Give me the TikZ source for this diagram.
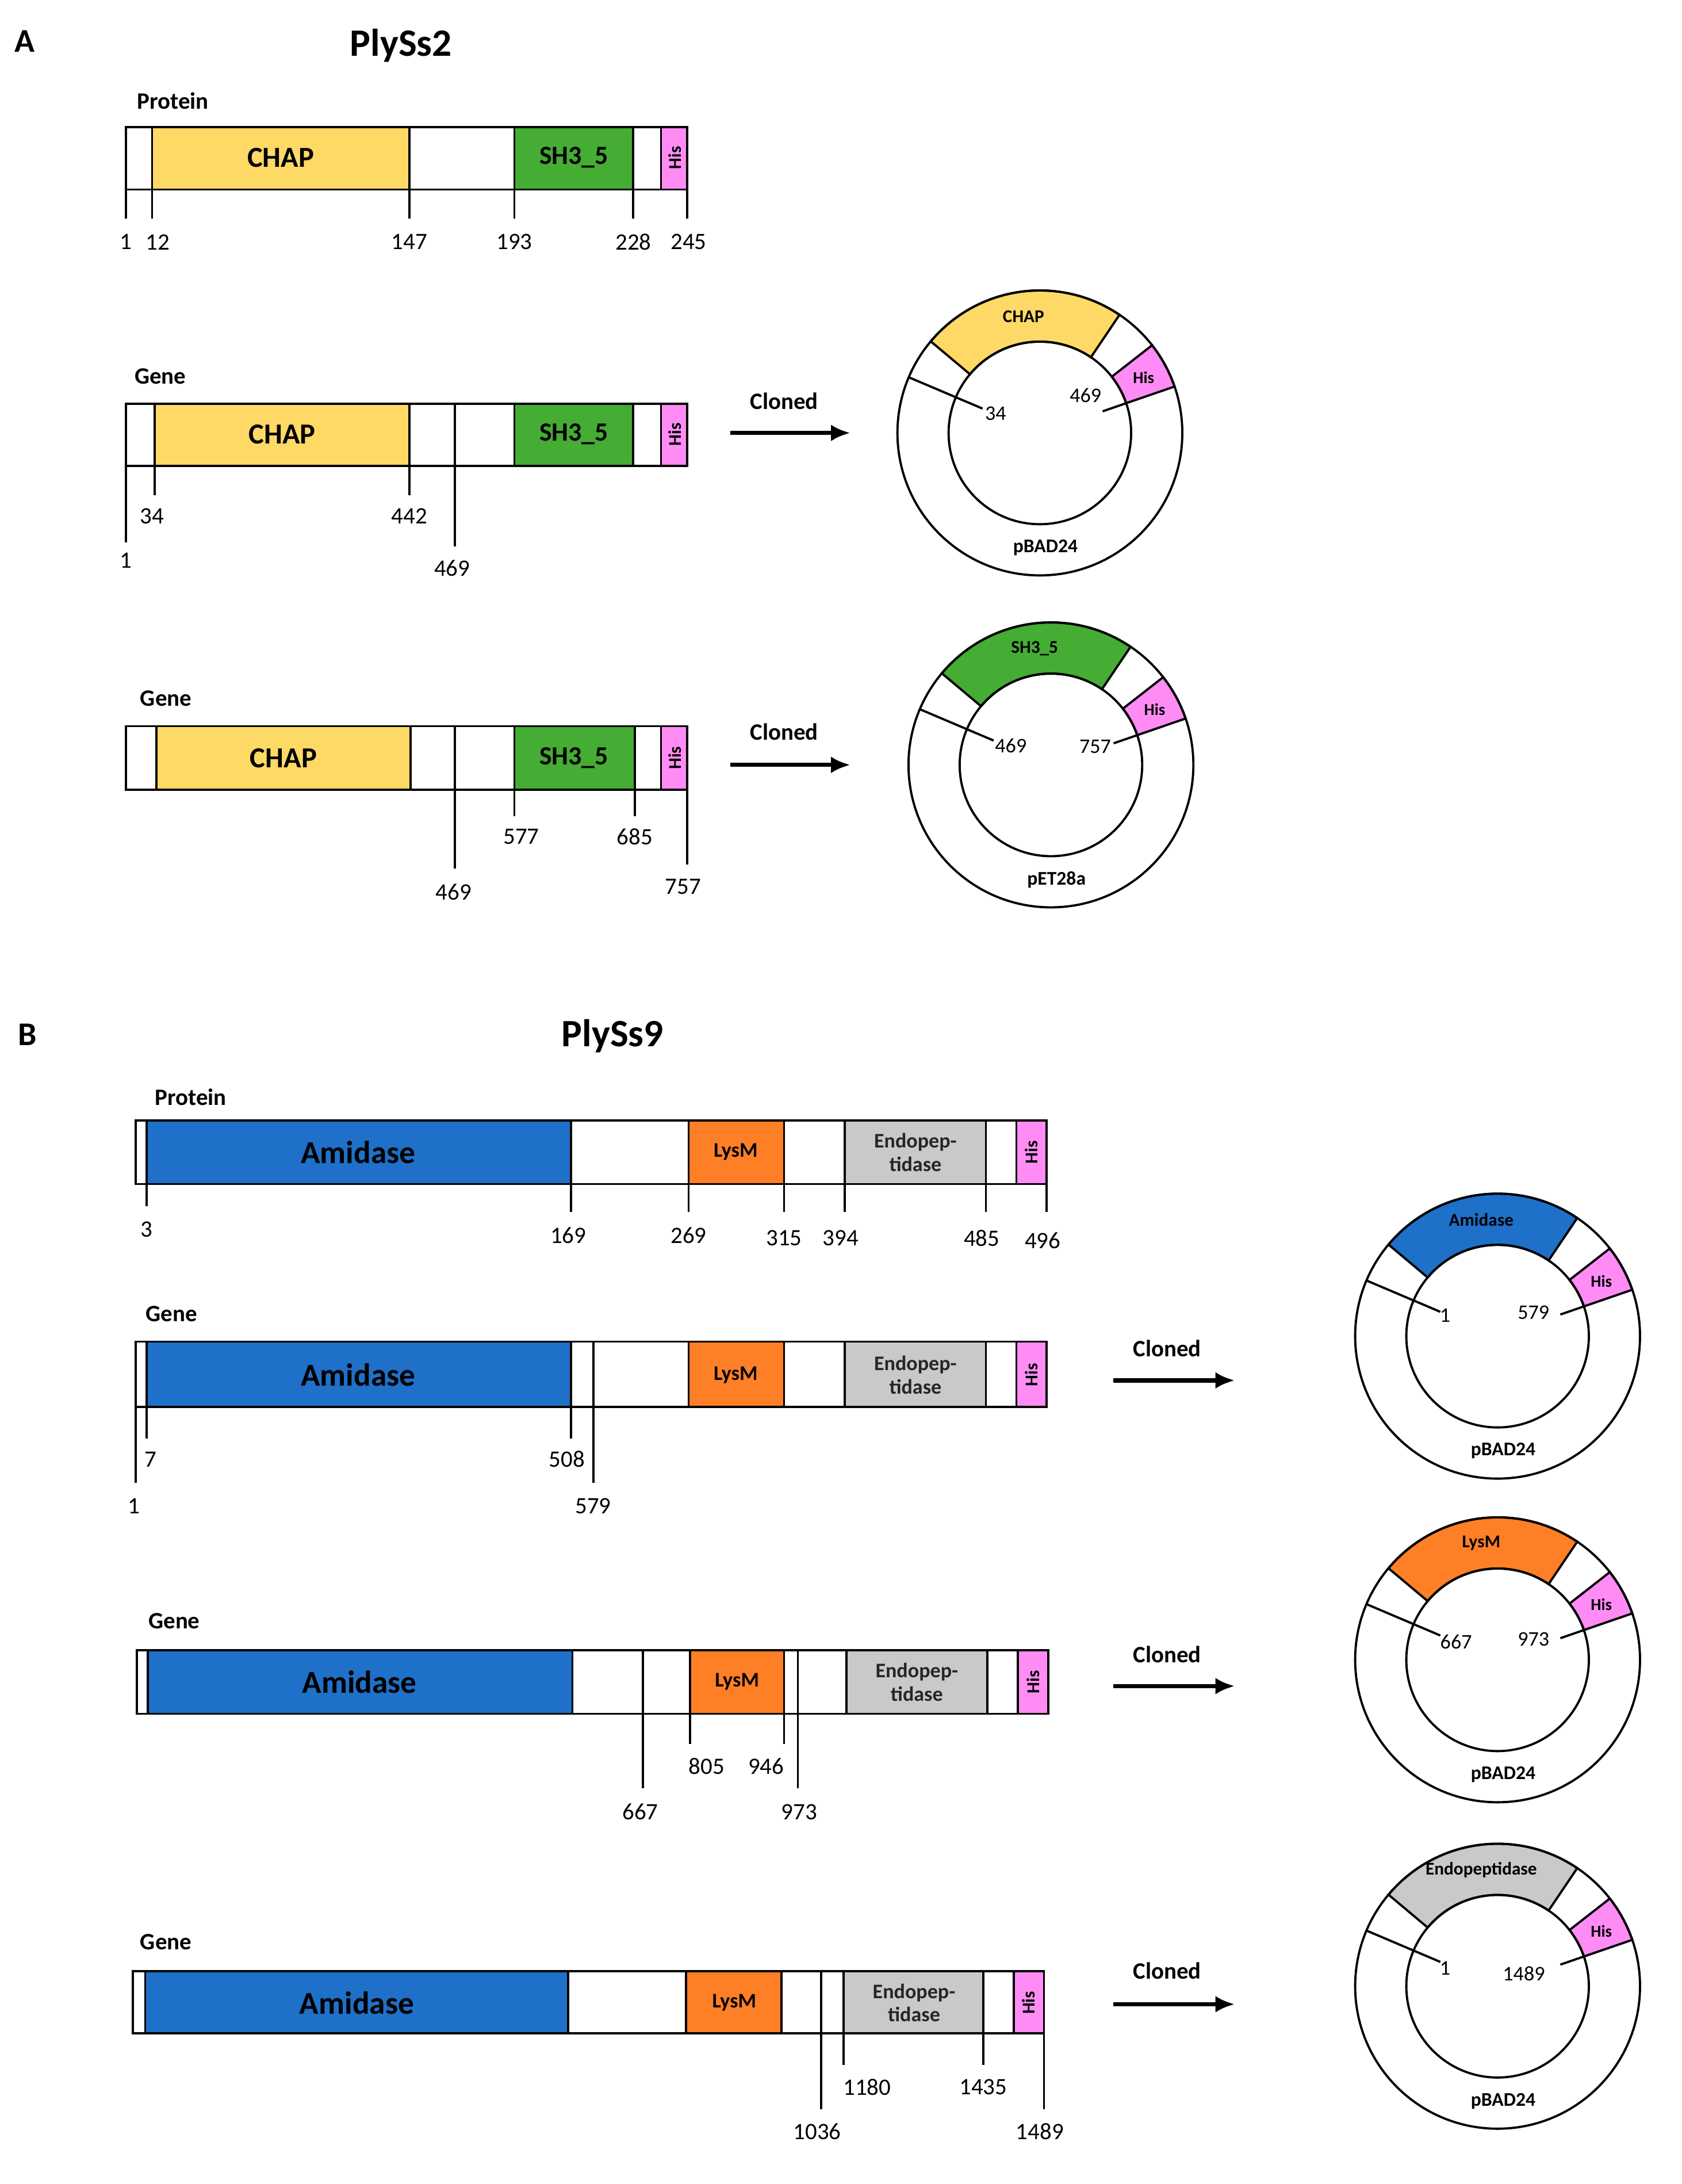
\documentclass[tikz,border=0pt]{standalone}
\usepackage{fontspec}
\setmainfont{Carlito}
\definecolor{ycol}{HTML}{FFD966}
\definecolor{gcol}{HTML}{45AC34}
\definecolor{pcol}{HTML}{FF8CF5}
\definecolor{bcol}{HTML}{1E70C8}
\definecolor{ocol}{HTML}{FF7F27}
\definecolor{scol}{HTML}{C9C9C9}
\newcommand\fs[1]{\fontsize{#1}{#1}\selectfont}
\newcommand\bx[5]{\filldraw[fill=#5] (#1,#3) rectangle (#2,#4);}
\newcommand\tk[3]{\draw (#1,#2) -- (#1,#3);}
\newcommand\plas[9]{%
 \begin{scope}[shift={(#1,#2)}]
 \fill[white] (0,0) circle (103);
 \filldraw[fill=#3] (-140:103) arc[start angle=-140,end angle=-56,radius=103] -- (-56:66) arc[start angle=-56,end angle=-140,radius=66] -- cycle;
 \filldraw[fill=pcol] (-38:103) arc[start angle=-38,end angle=-19,radius=103] -- (-19:66) arc[start angle=-19,end angle=-38,radius=66] -- cycle;
 \draw (0,0) circle (103); \draw (0,0) circle (66);
 \draw (-157:103) -- (-157:45);
 \draw (-19:66) -- (-19:48);
 \node[font=\fs{13}\bfseries] (#9d) at (-98:85) {#4};
 \node[font=\fs{12}\bfseries] (#9h) at (-28:85) {His};
 \node[font=\fs{15}] (#9a) at (#5) {#6};
 \node[font=\fs{15}] (#9b) at (#7) {#8};
 \node[font=\fs{14}\bfseries] (#9n) at (4,83) {\plasname};
 \end{scope}}
\begin{document}
\begin{tikzpicture}[x=1pt,y=-1pt,line width=1.6pt,
 lab/.style={font=\fs{17}},
 ttl/.style={font=\fs{17}\bfseries},
 arr/.style={-{Latex[length=14pt,width=12pt]},line width=3pt}]
\useasboundingbox (0,0) rectangle (1216,1579);
\usetikzlibrary{arrows.meta}
% ---------- A ----------
\node[font=\fs{24}\bfseries] (A) at (18,30) {A};
\node[font=\fs{28}\bfseries] (t1) at (290,33) {PlySs2};
\node[ttl] (p1) at (125,73) {Protein};
\bx{91}{110}{92}{137}{white}\bx{110}{296}{92}{137}{ycol}\bx{296}{372}{92}{137}{white}
\bx{372}{458}{92}{137}{gcol}\bx{458}{478}{92}{137}{white}\bx{478}{497}{92}{137}{pcol}
\node[font=\fs{21}\bfseries] at (203,114) {CHAP};
\node[font=\fs{19}\bfseries] at (415,114) {SH3\_5};
\node[font=\fs{13}\bfseries,rotate=90] at (488,114) {His};
\tk{91}{137}{158}\tk{110}{137}{158}\tk{296}{137}{158}\tk{372}{137}{158}\tk{458}{137}{158}\tk{497}{137}{158}
\node[lab] at (91,175) {1};\node[lab] at (114,175) {12};\node[lab] at (296,175) {147};
\node[lab] at (372,175) {193};\node[lab] at (458,175) {228};\node[lab] at (498,175) {245};
% gene 1
\node[ttl] (g1) at (116,272) {Gene};
\bx{91}{112}{292}{337}{white}\bx{112}{296}{292}{337}{ycol}\bx{296}{329}{292}{337}{white}\bx{329}{372}{292}{337}{white}
\bx{372}{458}{292}{337}{gcol}\bx{458}{478}{292}{337}{white}\bx{478}{497}{292}{337}{pcol}
\node[font=\fs{21}\bfseries] at (204,314) {CHAP};
\node[font=\fs{19}\bfseries] at (415,314) {SH3\_5};
\node[font=\fs{13}\bfseries,rotate=90] at (488,314) {His};
\tk{91}{337}{392}\tk{112}{337}{358}\tk{296}{337}{358}\tk{329}{337}{395}
\node[lab] at (91,405) {1};\node[lab] at (110,373) {34};\node[lab] at (296,373) {442};\node[lab] at (327,411) {469};
\node[ttl] (c1) at (567,290) {Cloned};
\coordinate (a1s) at (528,313); \coordinate (a1e) at (615,313);
\draw[arr] (a1s) -- (a1e);
\def\plasname{pBAD24}
\plas{752}{313}{ycol}{CHAP}{-32,-14}{34}{33,-27}{469}{P1}
% gene 2
\node[ttl] (g2) at (120,505) {Gene};
\bx{91}{113}{525}{571}{white}\bx{113}{297}{525}{571}{ycol}\bx{297}{329}{525}{571}{white}\bx{329}{372}{525}{571}{white}
\bx{372}{459}{525}{571}{gcol}\bx{459}{478}{525}{571}{white}\bx{478}{497}{525}{571}{pcol}
\node[font=\fs{21}\bfseries] at (205,548) {CHAP};
\node[font=\fs{19}\bfseries] at (415,548) {SH3\_5};
\node[font=\fs{13}\bfseries,rotate=90] at (488,548) {His};
\tk{329}{571}{628}\tk{372}{571}{590}\tk{459}{571}{590}\tk{497}{571}{625}
\node[lab] at (328,645) {469};\node[lab] at (377,605) {577};\node[lab] at (459,605) {685};\node[lab] at (494,641) {757};
\node[ttl] (c2) at (567,529) {Cloned};
\coordinate (a2s) at (528,553); \coordinate (a2e) at (615,553);
\draw[arr] (a2s) -- (a2e);
\def\plasname{pET28a}
\plas{760}{553}{gcol}{SH3\_5}{-29,-14}{469}{32,-13}{757}{P2}
% ---------- B ----------
\node[font=\fs{24}\bfseries] (B) at (20,748) {B};
\node[font=\fs{28}\bfseries] (t2) at (443,749) {PlySs9};
\node[ttl] (p2) at (138,793) {Protein};
\bx{98}{106}{810}{856}{white}\bx{106}{413}{810}{856}{bcol}\bx{413}{498}{810}{856}{white}\bx{498}{567}{810}{856}{ocol}
\bx{567}{611}{810}{856}{white}\bx{611}{713}{810}{856}{scol}\bx{713}{735}{810}{856}{white}\bx{735}{757}{810}{856}{pcol}
\node[font=\fs{23}\bfseries] at (259,833) {Amidase};
\node[font=\fs{15}\bfseries] at (532,833) {LysM};
\node[font=\fs{15}\bfseries,align=center,text=black!85] at (662,833) {Endopep-\\[2pt]tidase};
\node[font=\fs{13}\bfseries,rotate=90] at (746,833) {His};
\tk{106}{856}{872}\tk{413}{856}{876}\tk{498}{856}{876}\tk{567}{856}{876}\tk{611}{856}{876}\tk{713}{856}{876}\tk{757}{856}{876}
\node[lab] at (106,889) {3};\node[lab] at (411,893) {169};\node[lab] at (498,893) {269};\node[lab] at (567,895) {315};
\node[lab] at (608,895) {394};\node[lab] at (710,895) {485};\node[lab] at (754,897) {496};
% gene B1
\node[ttl] (g3) at (124,950) {Gene};
\bx{98}{106}{970}{1017}{white}\bx{106}{413}{970}{1017}{bcol}\bx{413}{429}{970}{1017}{white}\bx{429}{498}{970}{1017}{white}\bx{498}{567}{970}{1017}{ocol}
\bx{567}{611}{970}{1017}{white}\bx{611}{713}{970}{1017}{scol}\bx{713}{735}{970}{1017}{white}\bx{735}{757}{970}{1017}{pcol}
\node[font=\fs{23}\bfseries] at (259,994) {Amidase};
\node[font=\fs{15}\bfseries] at (532,994) {LysM};
\node[font=\fs{15}\bfseries,align=center,text=black!85] at (662,994) {Endopep-\\[2pt]tidase};
\node[font=\fs{13}\bfseries,rotate=90] at (746,994) {His};
\tk{98}{1017}{1072}\tk{106}{1017}{1040}\tk{413}{1017}{1040}\tk{429}{1017}{1072}
\node[lab] at (97,1089) {1};\node[lab] at (109,1055) {7};\node[lab] at (410,1055) {508};\node[lab] at (429,1089) {579};
\node[ttl] (c3) at (844,975) {Cloned};
\coordinate (a3s) at (805,998); \coordinate (a3e) at (893,998);
\draw[arr] (a3s) -- (a3e);
\def\plasname{pBAD24}
\plas{1083}{966}{bcol}{Amidase}{-38,-15}{1}{26,-17}{579}{P3}
% gene B2
\node[ttl] (g4) at (126,1172) {Gene};
\bx{99}{107}{1193}{1239}{white}\bx{107}{414}{1193}{1239}{bcol}\bx{414}{465}{1193}{1239}{white}\bx{465}{499}{1193}{1239}{white}\bx{499}{567}{1193}{1239}{ocol}
\bx{567}{577}{1193}{1239}{white}\bx{577}{612}{1193}{1239}{white}\bx{612}{714}{1193}{1239}{scol}\bx{714}{736}{1193}{1239}{white}\bx{736}{758}{1193}{1239}{pcol}
\node[font=\fs{23}\bfseries] at (260,1216) {Amidase};
\node[font=\fs{15}\bfseries] at (533,1216) {LysM};
\node[font=\fs{15}\bfseries,align=center,text=black!85] at (663,1216) {Endopep-\\[2pt]tidase};
\node[font=\fs{13}\bfseries,rotate=90] at (747,1216) {His};
\tk{465}{1239}{1293}\tk{499}{1239}{1261}\tk{567}{1239}{1261}\tk{577}{1239}{1293}
\node[lab] at (463,1310) {667};\node[lab] at (511,1277) {805};\node[lab] at (554,1277) {946};\node[lab] at (578,1310) {973};
\node[ttl] (c4) at (844,1196) {Cloned};
\coordinate (a4s) at (805,1219); \coordinate (a4e) at (893,1219);
\draw[arr] (a4s) -- (a4e);
\plas{1083}{1200}{ocol}{LysM}{-30,-13}{667}{26,-15}{973}{P4}
% gene B3
\node[ttl] (g5) at (120,1404) {Gene};
\bx{96}{105}{1425}{1470}{white}\bx{105}{411}{1425}{1470}{bcol}\bx{411}{496}{1425}{1470}{white}\bx{496}{565}{1425}{1470}{ocol}
\bx{565}{594}{1425}{1470}{white}\bx{594}{610}{1425}{1470}{white}\bx{610}{711}{1425}{1470}{scol}\bx{711}{733}{1425}{1470}{white}\bx{733}{755}{1425}{1470}{pcol}
\node[font=\fs{23}\bfseries] at (258,1448) {Amidase};
\node[font=\fs{15}\bfseries] at (531,1448) {LysM};
\node[font=\fs{15}\bfseries,align=center,text=black!85] at (661,1448) {Endopep-\\[2pt]tidase};
\node[font=\fs{13}\bfseries,rotate=90] at (744,1448) {His};
\tk{594}{1470}{1525}\tk{610}{1470}{1493}\tk{711}{1470}{1493}\tk{755}{1470}{1525}
\node[lab] at (591,1541) {1036};\node[lab] at (627,1509) {1180};\node[lab] at (711,1509) {1435};\node[lab] at (752,1541) {1489};
\node[ttl] (c5) at (844,1425) {Cloned};
\coordinate (a5s) at (805,1449); \coordinate (a5e) at (893,1449);
\draw[arr] (a5s) -- (a5e);
\plas{1083}{1436}{scol}{Endopeptidase}{-38,-13}{1}{19,-9}{1489}{P5}
\end{tikzpicture}
\end{document}
